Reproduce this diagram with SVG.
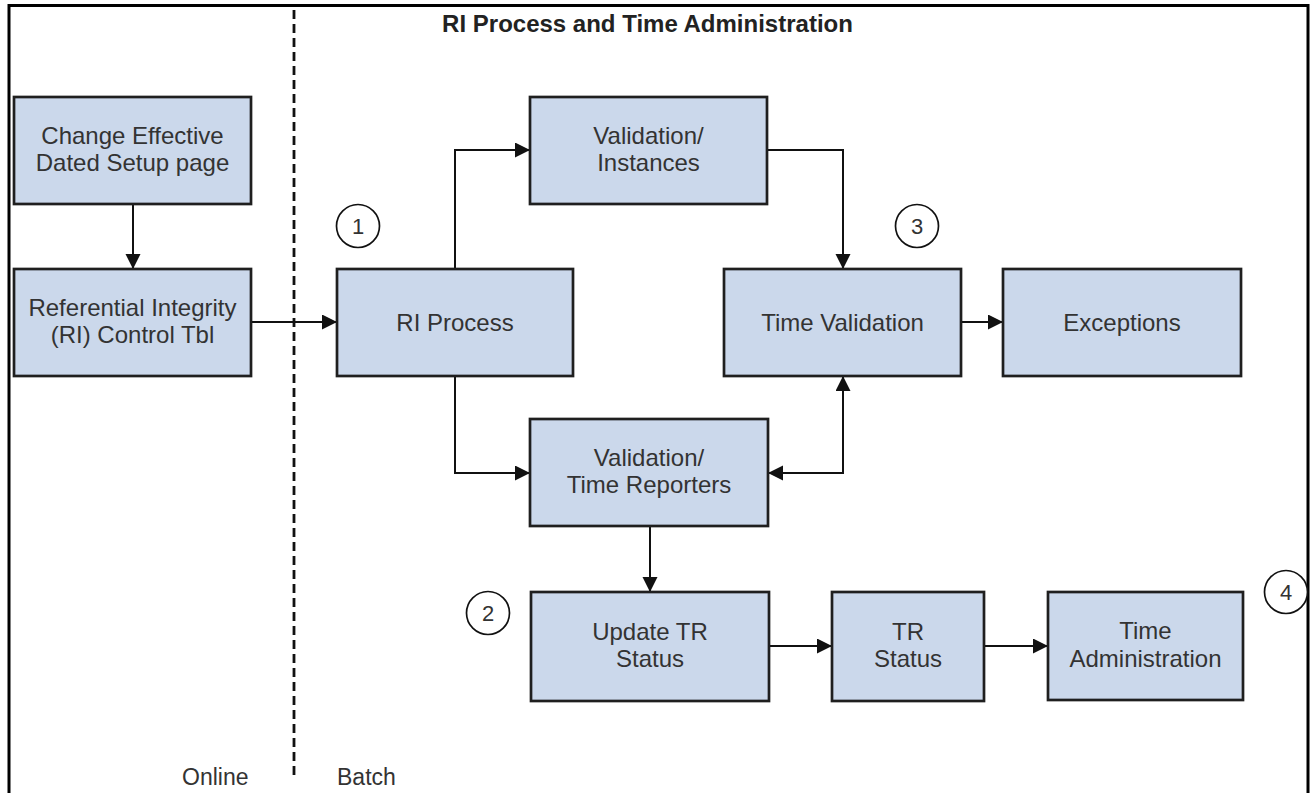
<svg xmlns="http://www.w3.org/2000/svg" width="1313" height="793" viewBox="0 0 1313 793">
<style>
.box{fill:#CBD8EB;stroke:#1f1f1f;stroke-width:2.7}
.lbl{font-family:"Liberation Sans",Arial,sans-serif;font-size:24px;fill:#333333;text-anchor:middle}
.title{font-family:"Liberation Sans",Arial,sans-serif;font-size:24px;font-weight:bold;fill:#222222;text-anchor:middle}
.lane{font-family:"Liberation Sans",Arial,sans-serif;font-size:23px;fill:#333333}
.conn{fill:none;stroke:#111111;stroke-width:2}
.num circle{fill:#ffffff;stroke:#111111;stroke-width:1.7}
.num text{font-family:"Liberation Sans",Arial,sans-serif;font-size:22px;fill:#333333;text-anchor:middle}
</style>
<defs>
<marker id="arr" markerUnits="userSpaceOnUse" markerWidth="16" markerHeight="16" refX="15" refY="7.5" orient="auto">
<path d="M0,0 L15,7.5 L0,15 z" fill="#111111"/>
</marker>
<marker id="arrs" markerUnits="userSpaceOnUse" markerWidth="16" markerHeight="16" refX="15" refY="7.5" orient="auto-start-reverse">
<path d="M0,0 L15,7.5 L0,15 z" fill="#111111"/>
</marker>
</defs>
<rect x="0" y="0" width="1313" height="793" fill="#ffffff"/>
<rect x="9" y="5.5" width="1299" height="810" fill="none" stroke="#000000" stroke-width="3"/>
<line x1="294" y1="10" x2="294" y2="780" stroke="#111111" stroke-width="2.8" stroke-dasharray="9,5"/>
<text class="title" x="647.5" y="32">RI Process and Time Administration</text>
<text class="lane" x="182" y="785">Online</text>
<text class="lane" x="337" y="785">Batch</text>

<g id="connectors">
<path class="conn" d="M133,204 V269" marker-end="url(#arr)"/>
<path class="conn" d="M251,322 H337" marker-end="url(#arr)"/>
<path class="conn" d="M455,269 V150 H530" marker-end="url(#arr)"/>
<path class="conn" d="M767,150 H843 V269" marker-end="url(#arr)"/>
<path class="conn" d="M961,322 H1003" marker-end="url(#arr)"/>
<path class="conn" d="M455,376 V473 H530" marker-end="url(#arr)"/>
<path class="conn" d="M768,473 H843 V376" marker-start="url(#arrs)" marker-end="url(#arrs)"/>
<path class="conn" d="M650,526 V592" marker-end="url(#arr)"/>
<path class="conn" d="M769,646 H832" marker-end="url(#arr)"/>
<path class="conn" d="M984,646 H1048" marker-end="url(#arr)"/>
</g>

<g id="change-effective">
<rect class="box" x="14" y="97" width="237" height="107"/>
<text class="lbl" x="132.5" y="143.5">Change Effective</text>
<text class="lbl" x="132.5" y="171">Dated Setup page</text>
</g>
<g id="ri-control">
<rect class="box" x="14" y="269" width="237" height="107"/>
<text class="lbl" x="132.5" y="315.5">Referential Integrity</text>
<text class="lbl" x="132.5" y="343">(RI) Control Tbl</text>
</g>
<g id="ri-process">
<rect class="box" x="337" y="269" width="236" height="107"/>
<text class="lbl" x="455" y="330.5">RI Process</text>
</g>
<g id="validation-instances">
<rect class="box" x="530" y="97" width="237" height="107"/>
<text class="lbl" x="648.5" y="143.5">Validation/</text>
<text class="lbl" x="648.5" y="171">Instances</text>
</g>
<g id="time-validation">
<rect class="box" x="724" y="269" width="237" height="107"/>
<text class="lbl" x="842.5" y="330.5">Time Validation</text>
</g>
<g id="exceptions">
<rect class="box" x="1003" y="269" width="238" height="107"/>
<text class="lbl" x="1122" y="330.5">Exceptions</text>
</g>
<g id="validation-time-reporters">
<rect class="box" x="530" y="419" width="238" height="107"/>
<text class="lbl" x="649" y="465.5">Validation/</text>
<text class="lbl" x="649" y="493">Time Reporters</text>
</g>
<g id="update-tr-status">
<rect class="box" x="531" y="592" width="238" height="109"/>
<text class="lbl" x="650" y="639.5">Update TR</text>
<text class="lbl" x="650" y="667">Status</text>
</g>
<g id="tr-status">
<rect class="box" x="832" y="592" width="152" height="109"/>
<text class="lbl" x="908" y="639.5">TR</text>
<text class="lbl" x="908" y="667">Status</text>
</g>
<g id="time-administration">
<rect class="box" x="1048" y="592" width="195" height="108"/>
<text class="lbl" x="1145.5" y="639">Time</text>
<text class="lbl" x="1145.5" y="666.5">Administration</text>
</g>

<g id="step-1" class="num"><circle cx="358" cy="226" r="21.5"/><text x="358" y="234">1</text></g>
<g id="step-2" class="num"><circle cx="488" cy="613" r="21.5"/><text x="488" y="621">2</text></g>
<g id="step-3" class="num"><circle cx="917" cy="226" r="21.5"/><text x="917" y="234">3</text></g>
<g id="step-4" class="num"><circle cx="1286" cy="592" r="21.5"/><text x="1286" y="600">4</text></g>
</svg>
